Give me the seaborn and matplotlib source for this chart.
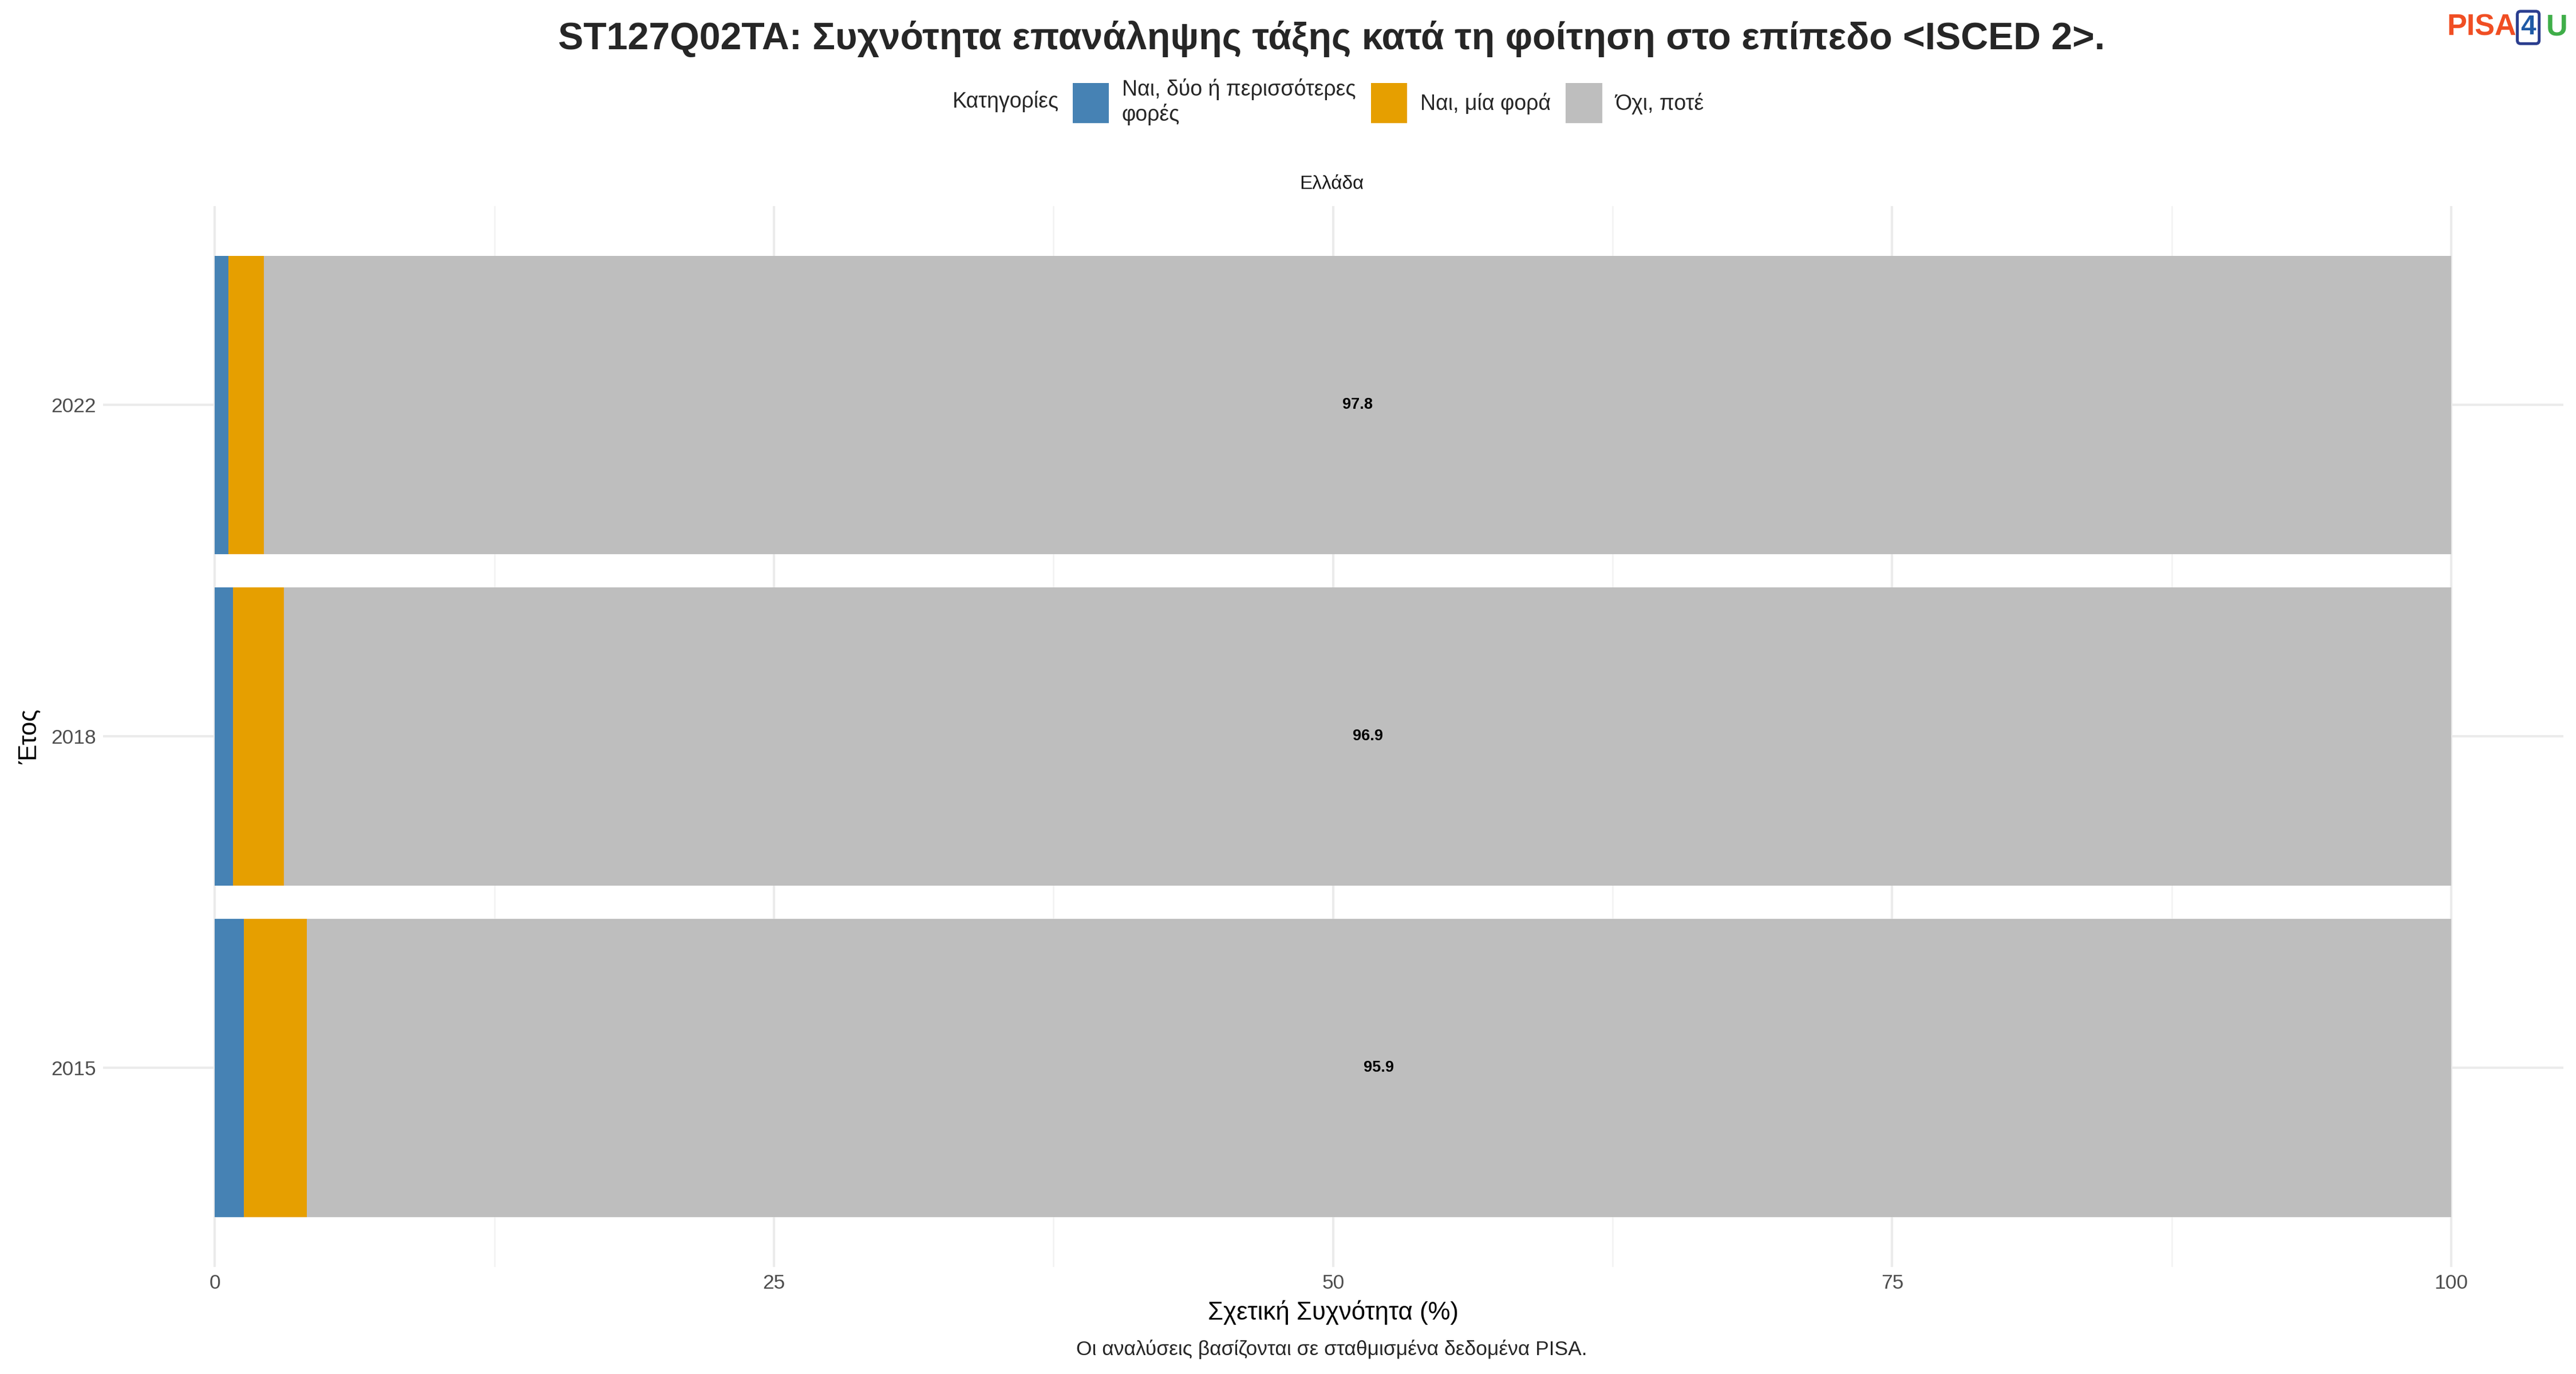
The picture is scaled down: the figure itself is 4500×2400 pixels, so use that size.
import matplotlib
matplotlib.use("Agg")
import matplotlib.pyplot as plt
import seaborn as sns
import pandas as pd
import numpy as np
from matplotlib.patches import Patch

years = ["2022", "2018", "2015"]
categories = ["Ναι, δύο ή περισσότερες\nφορές", "Ναι, μία φορά", "Όχι, ποτέ"]
two_plus = [0.6, 0.8, 1.3]
once = [1.6, 2.3, 2.8]
never = [97.8, 96.9, 95.9]
colors = ["#4682B4", "#E69F00", "#BEBEBE"]

sns.set_theme(style="whitegrid")
plt.rcParams['font.family'] = ['Liberation Sans', 'DejaVu Sans']

fig = plt.figure(figsize=(15, 8), dpi=300)
ax = fig.add_axes([0.04, 0.078, 0.955, 0.772])

df = pd.DataFrame({"year": years, "a": two_plus, "b": once, "c": never})
left = np.zeros(len(years))
for col, color in zip(["a", "b", "c"], colors):
    sns.barplot(data=df, y="year", x=col, orient="h", color=color, left=left,
                width=0.9, ax=ax, saturation=1, edgecolor="none", linewidth=0)
    left = left + df[col].values

for i, (s, v) in enumerate(zip(100 - np.array(never), never)):
    ax.text(s + v / 2, i, f"{v:.1f}", ha="center", va="center", fontsize=6.5, fontweight="bold", color="black")

ax.set_xlim(-5, 105)
ax.set_ylim(2.6, -0.6)
ax.set_xticks([0, 25, 50, 75, 100])
ax.set_xticks([12.5, 37.5, 62.5, 87.5], minor=True)
ax.grid(True, which="major", color="#EBEBEB", linewidth=1.0)
ax.grid(True, which="minor", axis="x", color="#F2F2F2", linewidth=0.6)
for s in ax.spines.values():
    s.set_visible(False)
ax.tick_params(axis="both", labelsize=8.5, colors="#4D4D4D", length=0, pad=3)
ax.set_xlabel("Σχετική Συχνότητα (%)", fontsize=10.5, color="black", labelpad=3)
ax.set_ylabel("Έτος", fontsize=10.5, color="black", labelpad=4)
ax.set_axisbelow(True)

fig.text(0.517, 0.866, "Ελλάδα", ha="center", va="center", fontsize=8, color="#1A1A1A")
fig.text(0.517, 0.011, "Οι αναλύσεις βασίζονται σε σταθμισμένα δεδομένα PISA.", ha="center", va="bottom", fontsize=8.5)
fig.suptitle("ST127Q02TA: Συχνότητα επανάληψης τάξης κατά τη φοίτηση στο επίπεδο <ISCED 2>.",
             x=0.517, y=0.985, fontsize=15.9, fontweight="bold")

handles = [Patch(facecolor=c, edgecolor="none") for c in colors]
fig.text(0.411, 0.926, "Κατηγορίες", ha="right", va="center", fontsize=9)
fig.legend(handles, categories, loc="center left", bbox_to_anchor=(0.413, 0.926), ncol=3,
           frameon=False, fontsize=9, handlelength=1.7, handleheight=2.5, columnspacing=0.7,
           handletextpad=0.6, borderaxespad=0)

# logo
fig.text(0.950, 0.98, "PISA", color="#F04E23", fontsize=12.5, fontweight="bold", ha="left", va="center")
fig.text(0.9785, 0.98, "4", color="#1F5AA6", fontsize=11.5, fontweight="bold", ha="left", va="center",
         bbox=dict(boxstyle="round,pad=0.12", facecolor="white", edgecolor="#2B3E8F", linewidth=1.2))
fig.text(0.9885, 0.98, "U", color="#3FAE49", fontsize=12.5, fontweight="bold", ha="left", va="center")

fig.savefig("out.png", dpi=300)
